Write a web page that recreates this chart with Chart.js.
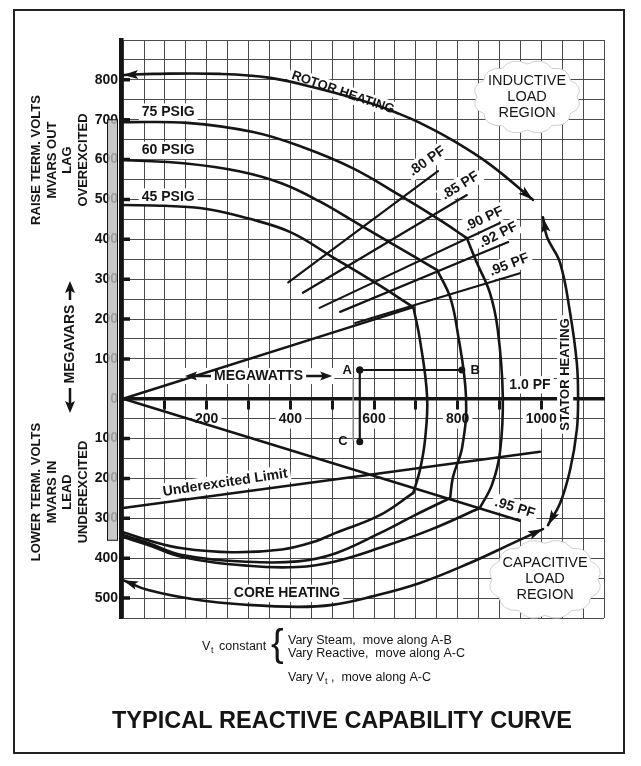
<!DOCTYPE html>
<html>
<head>
<meta charset="utf-8">
<title>Typical Reactive Capability Curve</title>
<script src="https://cdn.jsdelivr.net/npm/chart.js@4.4.1/dist/chart.umd.min.js"></script>
<style>
  html, body { margin: 0; padding: 0; background: #fff; }
  canvas { display: block; }
</style>
</head>
<body>
<canvas id="capability" width="641" height="766"></canvas>
<script>
// axis ticks (MW on x, MVAR on y)
const xLabelValues = [200, 400, 600, 800, 1000];
const xTickMarks = [100, 200, 300, 400, 500, 600, 700, 800, 900, 1000];
const yLabelValues = [800, 700, 600, 500, 400, 300, 200, 100, 0, -100, -200, -300, -400, -500];
const gridStep = 50;

// limit curves, each point is [MW, MVAR]
const rotorHeating = [[0, 812], [72, 815], [232, 815], [352, 805], [471, 777], [590, 742], [662, 714], [710, 692], [782, 652], [877, 588], [980, 499]];
const statorHeating = [[1004, 455], [1014, 405], [1045, 341], [1069, 215], [1085, 90], [1088, 5], [1085, -78], [1069, -178], [1045, -262], [1016, -317]];
const coreHeating = [[0, -455], [60, -480], [180, -505], [299, -517], [418, -522], [500, -517], [591, -497], [710, -462], [829, -412], [932, -362], [1004, -327]];

// hydrogen pressure curves: top part, stator arc, bottom part
const psig75Top = [[0, 694], [153, 692], [311, 669], [430, 631], [550, 578], [662, 510], [758, 448], [822, 403]];
const psig75Arc = [[822, 403], [846, 341], [877, 266], [896, 173], [908, 5], [901, -136], [882, -216], [853, -274]];
const psig75Bottom = [[853, -274], [734, -329], [614, -374], [507, -408], [418, -422], [299, -419], [141, -397], [60, -367], [0, -347]];

const psig60Top = [[0, 599], [150, 590], [280, 570], [380, 540], [470, 495], [560, 440], [650, 385], [751, 323]];
const psig60Arc = [[751, 323], [782, 255], [799, 173], [820, 5], [811, -121], [789, -196], [782, -249]];
const psig60Bottom = [[782, -249], [698, -292], [614, -337], [507, -388], [418, -408], [299, -409], [141, -392], [60, -362], [0, -342]];

const psig45Top = [[0, 486], [100, 484], [200, 476], [300, 452], [400, 418], [500, 356], [600, 293], [694, 230]];
const psig45Arc = [[694, 230], [710, 147], [727, 5], [722, -103], [710, -178], [694, -236]];
const psig45Bottom = [[694, -236], [614, -292], [507, -337], [459, -358], [380, -378], [261, -385], [141, -375], [60, -355], [0, -335]];

// straight limits and power factor lines
const underexcitedLimit = [[0, -274], [997, -133]];
const pf95Lag = [[0, 0], [694, 230]];
const pf95Lead = [[0, 0], [949, -306]];
const pf80 = [[395, 292], [753, 571]];
const pf85 = [[430, 266], [822, 511]];
const pf90 = [[470, 228], [901, 441]];
const pf92 = [[519, 218], [921, 393]];
const pf95 = [[555, 190], [949, 315]];

// operating point moves
const pointA = [566, 72];
const pointB = [810, 72];
const pointC = [566, -108];
const guideAC = [[550, 52], [550, -104]];

const FONT = "'Liberation Sans', Arial, Helvetica, sans-serif";
const INK = '#151515';

// text placed on the chart, anchored in MW / MVAR
const chartTexts = [
  { text: 'ROTOR HEATING', at: [526, 768], rot: 19, size: 13 },
  { text: 'STATOR HEATING', at: [1057, 61], rot: -90, size: 13 },
  { text: 'CORE HEATING', at: [392, -488], rot: 0, size: 14 },
  { text: 'Underexcited Limit', at: [244, -211], rot: -8.5, size: 14 },
  { text: '75 PSIG', at: [108, 719], rot: 0, size: 14 },
  { text: '60 PSIG', at: [108, 623], rot: 0, size: 14 },
  { text: '45 PSIG', at: [108, 506], rot: 0, size: 14 },
  { text: '.80 PF', at: [727, 596], rot: -35, size: 14 },
  { text: '.85 PF', at: [806, 534], rot: -32, size: 14 },
  { text: '.90 PF', at: [863, 451], rot: -25, size: 14 },
  { text: '.92 PF', at: [897, 411], rot: -27, size: 14 },
  { text: '.95 PF', at: [923, 336], rot: -21, size: 14 },
  { text: '.95 PF', at: [937, -274], rot: 17, size: 14 },
  { text: '1.0 PF', at: [973, 35], rot: 0, size: 14 },
  { text: 'A', at: [536, 72], rot: 0, size: 13, bg: false },
  { text: 'B', at: [842, 72], rot: 0, size: 13, bg: false },
  { text: 'C', at: [526, -108], rot: 0, size: 13, bg: false }
];

const clouds = [
  { lines: ['INDUCTIVE', 'LOAD', 'REGION'], at: [966, 757], w: 100, h: 66 },
  { lines: ['CAPACITIVE', 'LOAD', 'REGION'], at: [1009, -453], w: 106, h: 72 }
];

function gridValues(from, to) {
  const out = [];
  for (let v = from; v <= to; v += gridStep) out.push({ value: v });
  return out;
}

function line(points, extra) {
  return Object.assign({
    data: points.map(([x, y]) => ({ x, y })),
    showLine: true,
    borderColor: INK,
    borderWidth: 2.6,
    pointRadius: 0,
    tension: 0.4,
    borderCapStyle: 'round',
    borderJoinStyle: 'round'
  }, extra || {});
}

function drawArrowHead(ctx, tip, from, len, half) {
  const a = Math.atan2(tip.y - from.y, tip.x - from.x);
  ctx.save();
  ctx.translate(tip.x, tip.y);
  ctx.rotate(a);
  ctx.beginPath();
  ctx.moveTo(0, 0);
  ctx.lineTo(-len, -half);
  ctx.lineTo(-len * 0.8, 0);
  ctx.lineTo(-len, half);
  ctx.closePath();
  ctx.fillStyle = INK;
  ctx.fill();
  ctx.restore();
}

function cloudPath(ctx, cx, cy, w, h) {
  const n = 12;
  ctx.beginPath();
  for (let i = 0; i <= n; i++) {
    const a = (i / n) * Math.PI * 2;
    const px = cx + (w / 2) * Math.cos(a);
    const py = cy + (h / 2) * Math.sin(a);
    if (i === 0) {
      ctx.moveTo(px, py);
    } else {
      const m = ((i - 0.5) / n) * Math.PI * 2;
      ctx.quadraticCurveTo(cx + (w / 2 + 9) * Math.cos(m), cy + (h / 2 + 9) * Math.sin(m), px, py);
    }
  }
  ctx.closePath();
}

function rotatedText(ctx, text, x, y, size, rot, weight) {
  ctx.save();
  ctx.translate(x, y);
  ctx.rotate(rot * Math.PI / 180);
  ctx.font = `${weight || 'bold'} ${size}px ${FONT}`;
  ctx.textAlign = 'center';
  ctx.textBaseline = 'middle';
  ctx.fillStyle = INK;
  ctx.fillText(text, 0, 0);
  ctx.restore();
}

const decor = {
  id: 'decor',
  beforeDraw(chart) {
    const ctx = chart.ctx;
    ctx.save();
    ctx.fillStyle = '#fff';
    ctx.fillRect(0, 0, chart.width, chart.height);
    ctx.restore();
  },
  beforeDatasetsDraw(chart) {
    const ctx = chart.ctx;
    const xs = chart.scales.x, ys = chart.scales.y;
    // clouds over the grid
    clouds.forEach(c => {
      const cx = xs.getPixelForValue(c.at[0]), cy = ys.getPixelForValue(c.at[1]);
      ctx.save();
      cloudPath(ctx, cx, cy, c.w, c.h);
      ctx.fillStyle = '#fff';
      ctx.fill();
      ctx.strokeStyle = '#d0d0d0';
      ctx.lineWidth = 1;
      ctx.stroke();
      ctx.restore();
    });
    // white boxes behind the chart texts
    chartTexts.forEach(t => {
      if (t.bg === false) return;
      const x = xs.getPixelForValue(t.at[0]), y = ys.getPixelForValue(t.at[1]);
      ctx.save();
      ctx.font = `bold ${t.size}px ${FONT}`;
      const w = ctx.measureText(t.text).width + 6;
      ctx.translate(x, y);
      ctx.rotate(t.rot * Math.PI / 180);
      ctx.fillStyle = '#fff';
      ctx.fillRect(-w / 2, -t.size * 0.62, w, t.size * 1.24);
      ctx.restore();
    });
    // MEGAWATTS backdrop
    const my = ys.getPixelForValue(57);
    ctx.save();
    ctx.fillStyle = '#fff';
    ctx.fillRect(xs.getPixelForValue(148) - 2, my - 8, xs.getPixelForValue(500) - xs.getPixelForValue(148) + 4, 16);
    ctx.restore();
  },
  afterDatasetsDraw(chart) {
    const ctx = chart.ctx;
    const xs = chart.scales.x, ys = chart.scales.y;

    // arrowheads at curve ends
    chart.data.datasets.forEach((ds, i) => {
      const pts = chart.getDatasetMeta(i).data;
      if (ds.arrowStart) drawArrowHead(ctx, pts[0], pts[1], 15, 4.5);
      if (ds.arrowEnd) drawArrowHead(ctx, pts[pts.length - 1], pts[pts.length - 2], 15, 4.5);
    });

    // texts on the curves
    chartTexts.forEach(t => {
      rotatedText(ctx, t.text, xs.getPixelForValue(t.at[0]), ys.getPixelForValue(t.at[1]), t.size, t.rot);
    });

    // cloud texts
    clouds.forEach(c => {
      const cx = xs.getPixelForValue(c.at[0]), cy = ys.getPixelForValue(c.at[1]);
      c.lines.forEach((s, k) => rotatedText(ctx, s, cx, cy + (k - 1) * 16, 14.5, 0, 'normal'));
    });

    // MEGAWATTS with arrows
    const mx0 = xs.getPixelForValue(148), mx1 = xs.getPixelForValue(500), my = ys.getPixelForValue(57);
    const mcx = (mx0 + mx1) / 2;
    rotatedText(ctx, 'MEGAWATTS', mcx, my, 14, 0);
    ctx.save();
    ctx.font = `bold 14px ${FONT}`;
    const mw = ctx.measureText('MEGAWATTS').width / 2 + 3;
    ctx.strokeStyle = INK;
    ctx.lineWidth = 2.5;
    ctx.beginPath();
    ctx.moveTo(mx0 + 6, my); ctx.lineTo(mcx - mw, my);
    ctx.moveTo(mcx + mw, my); ctx.lineTo(mx1 - 6, my);
    ctx.stroke();
    ctx.restore();
    drawArrowHead(ctx, { x: mx0, y: my }, { x: mx0 + 10, y: my }, 12, 4.5);
    drawArrowHead(ctx, { x: mx1, y: my }, { x: mx1 - 10, y: my }, 12, 4.5);

    // grey terminal voltage bar, over the tick labels
    const barTop = ys.getPixelForValue(700), barBot = ys.getPixelForValue(-355);
    ctx.save();
    ctx.fillStyle = 'rgba(188,188,188,0.82)';
    ctx.fillRect(107, barTop, 10, barBot - barTop);
    ctx.strokeStyle = INK;
    ctx.lineWidth = 1;
    ctx.strokeRect(107.5, barTop, 10, barBot - barTop);
    ctx.restore();

    // short tick dashes to the right of the MVAR axis
    ctx.save();
    ctx.strokeStyle = INK;
    ctx.lineWidth = 3.5;
    ctx.beginPath();
    yLabelValues.forEach(v => {
      const y = ys.getPixelForValue(v);
      ctx.moveTo(ys.right - 1, y);
      ctx.lineTo(ys.right + 9, y);
    });
    ctx.stroke();
    ctx.restore();

    // vertical side labels
    const sideUpper = ['RAISE TERM. VOLTS', 'MVARS OUT', 'LAG', 'OVEREXCITED'];
    const sideLower = ['LOWER TERM. VOLTS', 'MVARS IN', 'LEAD', 'UNDEREXCITED'];
    const sideX = [36, 52, 67, 83];
    sideUpper.forEach((s, k) => rotatedText(ctx, s, sideX[k], 160, 13, -90));
    sideLower.forEach((s, k) => rotatedText(ctx, s, sideX[k], 492, 13, -90));

    // MEGAVARS with arrows
    rotatedText(ctx, 'MEGAVARS', 70, 344, 14, -90);
    ctx.save();
    ctx.strokeStyle = INK;
    ctx.lineWidth = 2.5;
    ctx.beginPath();
    ctx.moveTo(70, 290); ctx.lineTo(70, 300);
    ctx.moveTo(70, 388); ctx.lineTo(70, 404);
    ctx.stroke();
    ctx.restore();
    drawArrowHead(ctx, { x: 70, y: 281 }, { x: 70, y: 291 }, 12, 5);
    drawArrowHead(ctx, { x: 70, y: 413 }, { x: 70, y: 403 }, 12, 5);

    // notes under the chart
    ctx.save();
    ctx.fillStyle = INK;
    ctx.textBaseline = 'middle';
    ctx.textAlign = 'left';
    ctx.font = `12.5px ${FONT}`;
    ctx.fillText('V', 202, 647);
    ctx.font = `9px ${FONT}`;
    ctx.fillText('t', 211, 651);
    ctx.font = `12.5px ${FONT}`;
    ctx.fillText('constant', 219, 647);
    ctx.font = `38px ${FONT}`;
    ctx.fillText('{', 271, 646);
    ctx.font = `12.5px ${FONT}`;
    ctx.fillText('Vary Steam,  move along A-B', 288, 641);
    ctx.fillText('Vary Reactive,  move along A-C', 288, 654);
    ctx.fillText('Vary V', 288, 678);
    ctx.font = `9px ${FONT}`;
    ctx.fillText('t', 325, 682);
    ctx.font = `12.5px ${FONT}`;
    ctx.fillText(',  move along A-C', 331, 678);
    ctx.textAlign = 'center';
    ctx.font = `bold 23.5px ${FONT}`;
    ctx.fillText('TYPICAL REACTIVE CAPABILITY CURVE', 342, 722);
    ctx.restore();

    // page frame
    ctx.save();
    ctx.strokeStyle = '#222';
    ctx.lineWidth = 2;
    ctx.strokeRect(14, 10, 610, 743);
    ctx.restore();
  }
};

const datasets = [
  line(rotorHeating, { arrowStart: true, arrowEnd: true }),
  line(statorHeating, { arrowStart: true, arrowEnd: true }),
  line(coreHeating, { arrowStart: true, arrowEnd: true }),
  line(psig75Top), line(psig75Arc), line(psig75Bottom),
  line(psig60Top), line(psig60Arc), line(psig60Bottom),
  line(psig45Top), line(psig45Arc), line(psig45Bottom),
  line(underexcitedLimit, { tension: 0, borderWidth: 2.4 }),
  line(pf95Lag, { tension: 0, borderWidth: 2.4 }),
  line(pf95Lead, { tension: 0, borderWidth: 2.4 }),
  line(pf80, { tension: 0, borderWidth: 2.2 }),
  line(pf85, { tension: 0, borderWidth: 2.2 }),
  line(pf90, { tension: 0, borderWidth: 2.2 }),
  line(pf92, { tension: 0, borderWidth: 2.2 }),
  line(pf95, { tension: 0, borderWidth: 2.2 }),
  line(guideAC, { tension: 0, borderWidth: 1.4, borderColor: '#9a9a9a' }),
  line([pointA, pointB], { tension: 0, borderWidth: 2, pointRadius: 3.5, pointBackgroundColor: INK, pointBorderWidth: 0 }),
  line([pointA, pointC], { tension: 0, borderWidth: 2.2, pointRadius: 3.5, pointBackgroundColor: INK, pointBorderWidth: 0 })
];

new Chart(document.getElementById('capability'), {
  type: 'scatter',
  data: { datasets },
  options: {
    responsive: false,
    animation: false,
    events: [],
    layout: { padding: { left: 0, right: 37, top: 40, bottom: 148 } },
    plugins: { legend: { display: false }, tooltip: { enabled: false } },
    scales: {
      x: {
        type: 'linear',
        min: -5,
        max: 1150,
        position: { y: 0 },
        afterBuildTicks: s => { s.ticks = gridValues(0, 1150); },
        grid: {
          color: '#4a4a4a',
          lineWidth: 1,
          drawTicks: true,
          tickLength: 9,
          tickWidth: 3,
          tickColor: c => xTickMarks.includes(c.tick && c.tick.value) ? INK : 'rgba(0,0,0,0)'
        },
        border: { display: true, color: INK, width: 3.5 },
        ticks: {
          autoSkip: false,
          maxRotation: 0,
          padding: 3,
          color: INK,
          font: { family: FONT, size: 14, weight: 'bold' },
          callback: v => xLabelValues.includes(v) ? String(v) : '',
          showLabelBackdrop: c => xLabelValues.includes(c.tick && c.tick.value),
          backdropColor: '#fff',
          backdropPadding: { x: 3, y: 1 }
        }
      },
      y: {
        type: 'linear',
        position: 'left',
        min: -550,
        max: 900,
        afterFit: s => { s.width = 121; },
        afterBuildTicks: s => { s.ticks = gridValues(-550, 900); },
        grid: { color: '#4a4a4a', lineWidth: 1, drawTicks: false },
        border: { display: true, color: INK, width: 4.5 },
        ticks: {
          autoSkip: false,
          padding: 3,
          color: INK,
          font: { family: FONT, size: 14, weight: 'bold' },
          callback: v => yLabelValues.includes(v) ? String(Math.abs(v)) : ''
        }
      }
    }
  },
  plugins: [decor]
});
</script>
</body>
</html>
